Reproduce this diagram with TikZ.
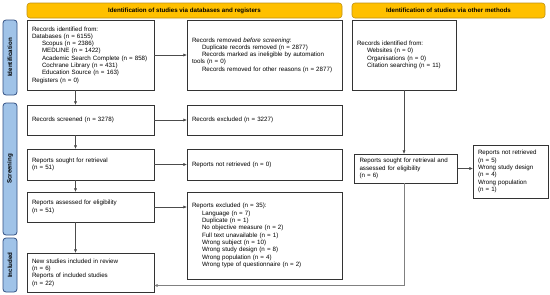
\documentclass[tikz,border=0pt]{standalone}
\usepackage{fontspec}
\setmainfont{Liberation Sans}
\usetikzlibrary{arrows.meta, positioning}
\definecolor{bannerfill}{RGB}{255,192,0}
\definecolor{bannerdraw}{RGB}{190,145,20}
\definecolor{phasefill}{RGB}{160,195,232}
\definecolor{phasedraw}{RGB}{50,80,130}
\newcommand{\ind}{\hspace*{10pt}}
\tikzset{
  box/.style={draw=black!80, line width=0.8pt, align=left, inner xsep=5pt, inner ysep=3pt, font=\fontsize{6.2}{7.3}\selectfont},
  banner/.style={draw=bannerdraw, fill=bannerfill, rounded corners=3pt, line width=0.6pt, minimum height=15pt, inner sep=0pt, font=\fontsize{6.2}{7}\selectfont\bfseries},
  phase/.style={draw=phasedraw, fill=phasefill, rounded corners=3pt, line width=0.8pt, rotate=90, minimum height=14pt, inner sep=0pt, font=\fontsize{6.2}{7}\selectfont\bfseries},
  arr/.style={-{Triangle[length=3.2pt, width=2.8pt]}, draw=black!70, line width=0.6pt},
}

\begin{document}
\begin{tikzpicture}[x=1pt, y=-1pt]
    \useasboundingbox (0,0) rectangle (550,295);
    % headers
    \node[banner, minimum width=315pt] (hdrdb) at (184.5,10.5) {Identification of studies via databases and registers};
    \node[banner, minimum width=193pt] (hdroth) at (448.5,10.5) {Identification of studies via other methods};
    % phases
    \node[phase, minimum width=75pt] (phid) at (10,57.5) {Identification};
    \node[phase, minimum width=132pt] (phscr) at (10,169) {Screening};
    \node[phase, minimum width=54pt] (phinc) at (10,265) {Included};
    % databases and registers
    \node[box, text width=117pt, minimum height=70pt] (ident) at (90.5,55) {Records identified from:\\
      Databases (n = 6155)\\
      \ind Scopus (n = 2386)\\
      \ind MEDLINE (n = 1422)\\
      \ind Academic Search Complete (n = 858)\\
      \ind Cochrane Library (n = 431)\\
      \ind Education Source (n = 163)\\
      Registers (n = 0)};
    \node[box, text width=145pt, minimum height=70pt] (removed) at (264.5,55) {Records removed \emph{before screening}:\\
      \ind Duplicate records removed (n = 2877)\\
      \ind Records marked as ineligible by automation\\
      tools (n = 0)\\
      \ind Records removed for other reasons (n = 2877)};
    \node[box, text width=117pt, minimum height=30pt] (screened) at (90.5,120) {Records screened (n = 3278)};
    \node[box, text width=145pt, minimum height=30pt] (excluded) at (264.5,120) {Records excluded (n = 3227)};
    \node[box, text width=117pt, minimum height=31pt] (sought) at (90.5,164.5) {Reports sought for retrieval\\(n = 51)};
    \node[box, text width=145pt, minimum height=31pt] (notret) at (264.5,164.5) {Reports not retrieved (n = 0)};
    \node[box, text width=117pt, minimum height=30pt] (assessed) at (90.5,207) {Reports assessed for eligibility\\(n = 51)};
    \node[box, text width=145pt, minimum height=87pt] (repexcl) at (264.5,235.5) {Reports excluded (n = 35):\\
      \ind Language (n = 7)\\
      \ind Duplicate (n = 1)\\
      \ind No objective measure (n = 2)\\
      \ind Full text unavailable (n = 1)\\
      \ind Wrong subject (n = 10)\\
      \ind Wrong study design (n = 8)\\
      \ind Wrong population (n = 4)\\
      \ind Wrong type of questionnaire (n = 2)};
    \node[box, text width=117pt, minimum height=39pt] (included) at (90.5,272.5) {New studies included in review\\(n = 6)\\Reports of included studies\\(n = 22)};
    % other methods
    \node[box, text width=94pt, minimum height=70pt] (othid) at (404,55) {Records identified from:\\
      \ind Websites (n = 0)\\
      \ind Organisations (n = 0)\\
      \ind Citation searching (n = 11)};
    \node[box, text width=93pt, minimum height=29pt] (othsought) at (406,168.5) {Reports sought for retrieval and\\assessed for eligibility\\(n = 6)};
    \node[box, text width=65pt, minimum height=53pt] (othnotret) at (510.5,171.5) {Reports not retrieved\\(n = 5)\\Wrong study design\\(n = 4)\\Wrong population\\(n = 1)};
    \coordinate (incin) at ([yshift=-13pt]included.east);
    % connectors
    \draw[arr] (ident) -- (removed);
    \draw[arr] (screened) -- (excluded);
    \draw[arr] (sought) -- (notret);
    \draw[arr] (assessed.east) -- (assessed.east -| repexcl.west);
    \draw[arr] ([xshift=-15pt]ident.south) -- ([xshift=-15pt]screened.north);
    \draw[arr] ([xshift=-15pt]screened.south) -- ([xshift=-15pt]sought.north);
    \draw[arr] ([xshift=-15pt]sought.south) -- ([xshift=-15pt]assessed.north);
    \draw[arr] ([xshift=-15pt]assessed.south) -- ([xshift=-15pt]included.north);
    \draw[arr] (othid.south) -- (othid.south |- othsought.north);
    \draw[arr] (othsought.east) -- (othsought.east -| othnotret.west);
    \draw[arr, draw=black!50] (othsought.south -| othid.south) |- (incin);
\end{tikzpicture}
\end{document}
